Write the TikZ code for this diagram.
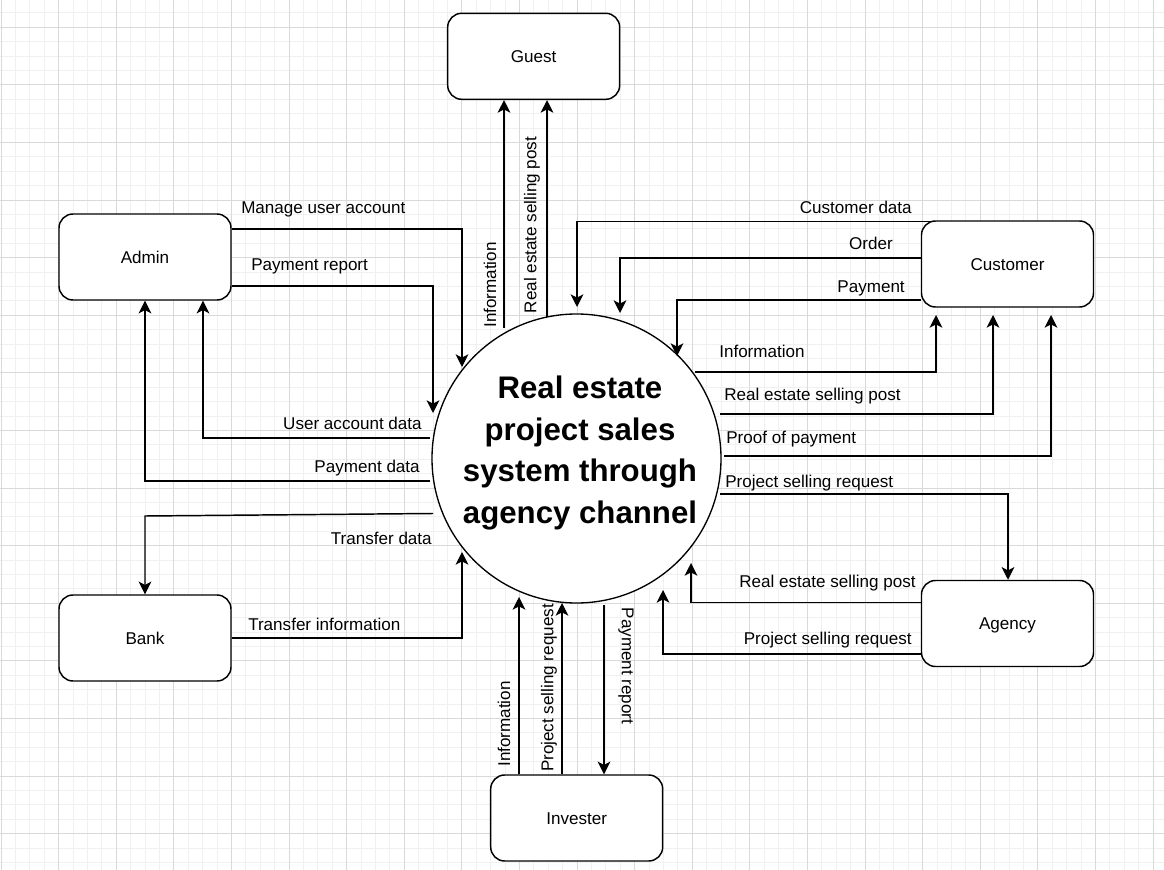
\documentclass[tikz,border=0pt]{standalone}
\usepackage{fontspec}
\setmainfont{Liberation Sans}
\usetikzlibrary{arrows.meta}
\begin{document}
\begin{tikzpicture}[x=0.75pt,y=-0.75pt,
  ent/.style={draw, line width=1.1pt, rounded corners=10.5pt, minimum width=129pt, minimum height=64.5pt, fill=white, inner sep=0pt, text height=9.2pt, text depth=0pt, font=\fontsize{12.8}{15}\selectfont},
  proc/.style={draw, circle, line width=1pt, minimum size=216.75pt, inner sep=0pt, fill=white},
  proctext/.style={align=center, inner sep=0pt, font=\bfseries\fontsize{23.4}{31.3}\selectfont},
  flow/.style={line width=1.1pt, -{Stealth[length=9.5pt,width=9.5pt,inset=2.5pt]}},
  lbl/.style={font=\fontsize{12.8}{15}\selectfont, inner sep=0pt, text height=9.2pt, text depth=0pt},
  rlbl/.style={font=\fontsize{12.8}{15}\selectfont, inner sep=0pt},
  minorg/.style={draw=black!6, line width=0.75pt},
  majorg/.style={draw=black!15, line width=0.75pt}]
% background and grid
\fill[white] (0,0) rectangle (1164,870);
\useasboundingbox (0,0) rectangle (1164,870);
\foreach \i in {0,...,81} \draw[minorg] ({1+14.4*\i},0) -- ({1+14.4*\i},870);
\foreach \i in {0,...,61} \draw[minorg] (0,{-1.5+14.4*\i}) -- (1164,{-1.5+14.4*\i});
\foreach \i in {0,...,20} \draw[majorg] ({1+57.6*\i},0) -- ({1+57.6*\i},870);
\foreach \i in {0,...,15} \draw[majorg] (0,{-30.3+57.6*\i}) -- (1164,{-30.3+57.6*\i});

% process
\node[proc] (c) at (576.5,458.5) {};
\node[proctext] (ct) at (580,453) {Real estate\\project sales\\system through\\agency channel};

% entity positions (drawn later on top)
\path (533.7,56.3) coordinate (guestP)
      (145,257) coordinate (adminP)
      (1007.5,264) coordinate (customerP)
      (145,638) coordinate (bankP)
      (1007.5,623.5) coordinate (agencyP)
      (576.7,818) coordinate (investerP);
\node[ent, draw=none, fill=none] (guest) at (guestP) {};
\node[ent, draw=none, fill=none] (admin) at (adminP) {};
\node[ent, draw=none, fill=none] (customer) at (customerP) {};
\node[ent, draw=none, fill=none] (bank) at (bankP) {};
\node[ent, draw=none, fill=none] (agency) at (agencyP) {};
\node[ent, draw=none, fill=none] (invester) at (investerP) {};

% coordinates of free ends and corners
\coordinate (gI) at (504,328);
\coordinate (gR) at (547,317);
\coordinate (aMc) at (462,229);   \coordinate (aMe) at (462,367);
\coordinate (aPc) at (433,286);   \coordinate (aPe) at (433,413);
\coordinate (uS) at (430,438);    \coordinate (uC) at (203,438);
\coordinate (pS) at (430,481);    \coordinate (pC) at (145,481);
\coordinate (tS) at (433,513.5);  \coordinate (tC) at (145,516);
\coordinate (tIc) at (462,638);   \coordinate (tIe) at (462,552);
\coordinate (cDc) at (577,221.5); \coordinate (cDe) at (577,307);
\coordinate (cOc) at (620,258);   \coordinate (cOe) at (620,313);
\coordinate (cPc) at (677,300);   \coordinate (cPe) at (677,356);
\coordinate (rIs) at (695,372);   \coordinate (rIc) at (936,372);   \coordinate (rIe) at (936,315);
\coordinate (rRs) at (720,414);   \coordinate (rRc) at (993,414);   \coordinate (rRe) at (993,315);
\coordinate (rPs) at (724,456);   \coordinate (rPc) at (1051,456);  \coordinate (rPe) at (1051,315);
\coordinate (rSs) at (720,494);   \coordinate (rSc) at (1008,494);
\coordinate (gRc) at (691,602.5); \coordinate (gRe) at (691,563);
\coordinate (gSc) at (663,654);   \coordinate (gSe) at (663,590);
\coordinate (iI) at (519,597);
\coordinate (iS) at (562,603);
\coordinate (iP) at (604,605);

% Guest flows
\draw[flow] (gI) -- (gI |- guest.south);
\draw[flow] (gR) -- (gR |- guest.south);
% Admin flows
\draw[flow] (aMc -| admin.east) -- (aMc) -- (aMe);
\draw[flow] (aPc -| admin.east) -- (aPc) -- (aPe);
\draw[flow] (uS) -- (uC) -- (uC |- admin.south);
\draw[flow] (pS) -- (pC) -- (pC |- admin.south);
% Bank flows
\draw[flow] (tS) -- (tC) -- (tC |- bank.north);
\draw[flow] (tIc -| bank.east) -- (tIc) -- (tIe);
% Customer flows
\draw[flow] (cDc -| customer.center) -- (cDc) -- (cDe);
\draw[flow] (cOc -| customer.west) -- (cOc) -- (cOe);
\draw[flow] (cPc -| customer.west) -- (cPc) -- (cPe);
\draw[flow] (rIs) -- (rIc) -- (rIe);
\draw[flow] (rRs) -- (rRc) -- (rRe);
\draw[flow] (rPs) -- (rPc) -- (rPe);
% Agency flows
\draw[flow] (rSs) -- (rSc) -- (rSc |- agency.north);
\draw[flow] (gRc -| agency.west) -- (gRc) -- (gRe);
\draw[flow] (gSc -| agency.west) -- (gSc) -- (gSe);
% Invester flows
\draw[flow] (iI |- invester.north) -- (iI);
\draw[flow] (iS |- invester.north) -- (iS);
\draw[flow] (iP) -- (iP |- invester.north);

% entities
\node[ent] at (guestP) {Guest};
\node[ent] at (adminP) {Admin};
\node[ent] at (customerP) {Customer};
\node[ent] at (bankP) {Bank};
\node[ent] at (agencyP) {Agency};
\node[ent] at (investerP) {Invester};

% labels
\node[rlbl, rotate=90] (l1) at (490,285) {Information};
\node[rlbl, rotate=90] (l2) at (532,225) {Real estate selling post};
\node[lbl, anchor=west] (l3) at (241,207) {Manage user account};
\node[lbl, anchor=west] (l4) at (251,264) {Payment report};
\node[lbl, anchor=east] (l5) at (422,423) {User account data};
\node[lbl, anchor=east] (l6) at (420,466) {Payment data};
\node[lbl, anchor=east] (l7) at (432,538) {Transfer data};
\node[lbl, anchor=west] (l8) at (248,624) {Transfer information};
\node[lbl, anchor=east] (l9) at (912,207) {Customer data};
\node[lbl, anchor=east] (l10) at (893,243) {Order};
\node[lbl, anchor=east] (l11) at (905,286) {Payment};
\node[lbl, anchor=west] (l12) at (719,351) {Information};
\node[lbl, anchor=west] (l13) at (724,394) {Real estate selling post};
\node[lbl, anchor=west] (l14) at (726,437) {Proof of payment};
\node[lbl, anchor=west] (l15) at (725,481) {Project selling request};
\node[lbl, anchor=east] (l16) at (916,581) {Real estate selling post};
\node[lbl, anchor=east] (l17) at (912,638) {Project selling request};
\node[rlbl, rotate=90] (l18) at (504,724) {Information};
\node[rlbl, rotate=90] (l19) at (549,688) {Project selling request};
\node[rlbl, rotate=-90] (l20) at (626,666) {Payment report};
\end{tikzpicture}
\end{document}
